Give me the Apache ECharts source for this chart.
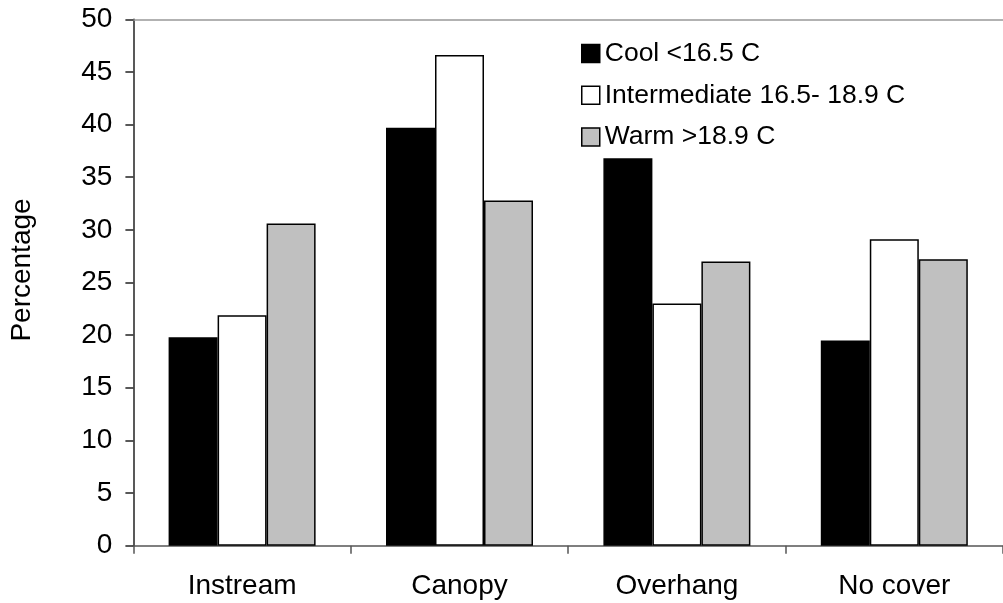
<!DOCTYPE html>
<html>
<head>
<meta charset="utf-8">
<script src="https://cdn.jsdelivr.net/npm/echarts@6/dist/echarts.min.js"></script>
<style>
html,body{margin:0;padding:0;background:#fff;}
#chart{width:1003px;height:603px;}
</style>
</head>
<body>
<div id="chart"></div>
<script>
const categories = ['Instream', 'Canopy', 'Overhang', 'No cover'];
const seriesNames = ['Cool <16.5 C', 'Intermediate 16.5- 18.9 C', 'Warm >18.9 C'];
const coolValues = [19.8, 39.7, 36.8, 19.5];
const intermediateValues = [21.9, 46.6, 23.0, 29.1];
const warmValues = [30.6, 32.8, 27.0, 27.2];
const yTicks = [0, 5, 10, 15, 20, 25, 30, 35, 40, 45, 50];
const yAxisTitle = 'Percentage';

const FONT = "'Liberation Sans', Arial, Helvetica, sans-serif";
const colors = ['#000000', '#ffffff', '#c0c0c0'];
const values = [coolValues, intermediateValues, warmValues];

const chart = echarts.init(document.getElementById('chart'), null, {renderer: 'canvas'});
const option = {
  animation: false,
  backgroundColor: '#ffffff',
  textStyle: {fontFamily: FONT},
  grid: {left: 133.4, top: 19.3, bottom: 57.3, right: -11.6, containLabel: false},
  legend: {
    orient: 'vertical',
    left: 581,
    top: 40,
    padding: 0,
    itemWidth: 18,
    itemHeight: 18,
    itemGap: 14.7,
    icon: 'rect',
    selectedMode: false,
    textStyle: {fontFamily: FONT, fontSize: 26.5, color: '#000', lineHeight: 26},
    data: seriesNames.map((n, i) => ({
      name: n,
      itemStyle: {color: colors[i], borderColor: '#000', borderWidth: 1.5}
    }))
  },
  xAxis: [
    {
      type: 'category',
      data: categories,
      position: 'bottom',
      axisLine: {show: true, lineStyle: {color: '#555', width: 1.5}},
      axisTick: {show: true, length: 8, lineStyle: {color: '#555', width: 1.5}},
      axisLabel: {fontFamily: FONT, fontSize: 28, color: '#000', margin: 27},
      splitLine: {show: false}
    },
    {
      type: 'category',
      data: categories,
      position: 'top',
      axisLine: {show: true, lineStyle: {color: '#999', width: 1.5}},
      axisTick: {show: false},
      axisLabel: {show: false},
      splitLine: {show: false}
    }
  ],
  yAxis: {
    type: 'value',
    min: yTicks[0],
    max: yTicks[yTicks.length - 1],
    interval: yTicks[1] - yTicks[0],
    axisLine: {show: true, lineStyle: {color: '#222', width: 1.5}},
    axisTick: {show: true, length: 8, lineStyle: {color: '#222', width: 1.5}},
    axisLabel: {fontFamily: FONT, fontSize: 28, color: '#000', margin: 21},
    splitLine: {show: false}
  },
  graphic: [{
    type: 'text',
    x: 22.5,
    y: 270,
    rotation: Math.PI / 2,
    style: {
      text: yAxisTitle,
      font: '28px ' + FONT,
      fill: '#000',
      align: 'center',
      verticalAlign: 'middle'
    }
  }],
  series: seriesNames.map((n, i) => ({
    name: n,
    type: 'bar',
    data: values[i],
    barWidth: 49,
    barGap: '0%',
    itemStyle: {color: colors[i], borderColor: '#000', borderWidth: 1.5},
    emphasis: {disabled: true}
  }))
};
chart.setOption(option);
</script>
</body>
</html>
